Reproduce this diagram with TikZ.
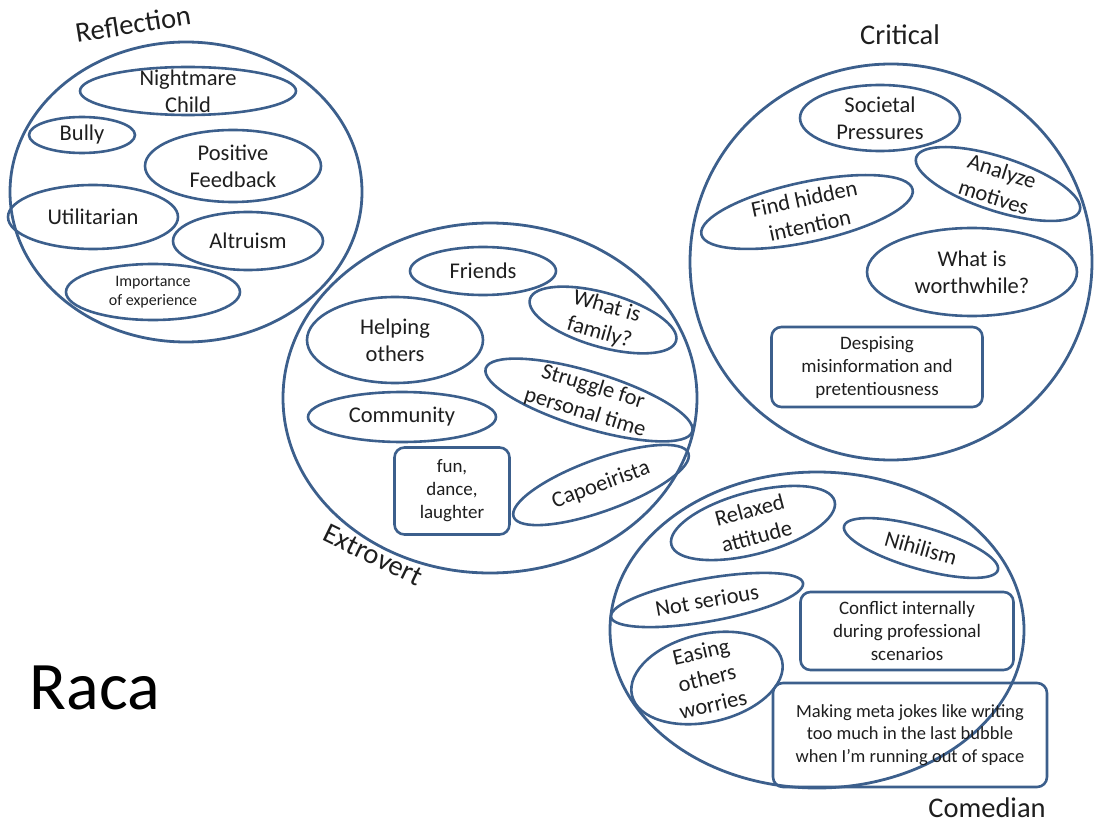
\documentclass[tikz,border=0pt]{standalone}
\usepackage{fontspec}
\setmainfont{Carlito}
\usetikzlibrary{shapes.geometric}
\definecolor{linecol}{HTML}{3C5F8C}
\definecolor{ink}{HTML}{1E1E1E}

\begin{document}
\begin{tikzpicture}[x=1pt,y=-1pt,
  group/.style={draw=linecol, line width=2.8pt, ellipse, inner sep=0pt},
  bub/.style={draw=linecol, line width=2.6pt, ellipse, inner sep=0pt},
  card/.style={draw=linecol, line width=2.6pt, rectangle, rounded corners=10pt, inner sep=0pt},
  txt/.style={text=ink, align=center, inner sep=0pt, font=\fontsize{22.5}{27}\selectfont},
  smalltxt/.style={txt, font=\fontsize{19}{23}\selectfont},
  tinytxt/.style={txt, font=\fontsize{16}{19}\selectfont},
  metatxt/.style={txt, font=\fontsize{18.5}{22.5}\selectfont},
  title/.style={text=ink, inner sep=0pt, font=\fontsize{28.5}{34}\selectfont}
]
\useasboundingbox (0,0) rectangle (1094,834);

% four groups
\node[group, minimum width=352, minimum height=300] (refl) at (186,192) {};
\node[group, minimum width=414, minimum height=350] (extro) at (490,398) {};
\node[group, minimum width=402, minimum height=396] (crit) at (891,262) {};
\node[group, minimum width=414, minimum height=316] (come) at (817,630) {};

% group titles
\node[title, rotate=9] (reflT) at (133,24) {Reflection};
\node[title, rotate=-26] (extroT) at (373,555) {Extrovert};
\node[title] (critT) at (900,35) {Critical};
\node[title] (comeT) at (987,808) {Comedian};
\node[text=black, inner sep=0pt, font=\fontsize{68}{80}\selectfont] (name) at (95,688) {Raca};

% Reflection
\node[bub, minimum width=216, minimum height=48] (nm) at (188,91) {};
\node[txt] (nmT) at (nm.center) {Nightmare\\Child};
\node[bub, minimum width=106, minimum height=36] (bully) at (82,135) {};
\node[txt] (bullyT) at (bully.center) {Bully};
\node[bub, minimum width=176, minimum height=72] (pf) at (233,166) {};
\node[txt] (pfT) at (pf.center) {Positive\\Feedback};
\node[bub, minimum width=170, minimum height=64] (util) at (93,217) {};
\node[txt] (utilT) at (util.center) {Utilitarian};
\node[bub, minimum width=150, minimum height=58] (alt) at (248,241) {};
\node[txt] (altT) at (alt.center) {Altruism};
\node[bub, minimum width=174, minimum height=56] (imp) at (153,292) {};
\node[tinytxt] (impT) at (imp.center) {Importance\\of experience};

% Extrovert
\node[bub, minimum width=146, minimum height=48] (fr) at (483,271) {};
\node[txt] (frT) at (fr.center) {Friends};
\node[bub, minimum width=152, minimum height=54, rotate=-16] (fam) at (603,320) {};
\node[txt, rotate=-16] (famT) at (fam.center) {What is\\family?};
\node[bub, minimum width=176, minimum height=86] (help) at (395,340) {};
\node[txt] (helpT) at (help.center) {Helping\\others};
\node[bub, minimum width=216, minimum height=56, rotate=-17] (strug) at (589,400) {};
\node[txt, rotate=-17] (strugT) at (strug.center) {Struggle for\\personal time};
\node[bub, minimum width=188, minimum height=50] (comm) at (402,417) {};
\node[txt] (commT) at (comm.center) {Community};
\node[card, minimum width=115, minimum height=87] (fun) at (452,491) {};
\node[smalltxt] (funT) at (fun.center) {fun,\\dance,\\laughter};
\node[bub, minimum width=186, minimum height=52, rotate=20] (cap) at (601,485) {};
\node[txt, rotate=20] (capT) at (cap.center) {Capoeirista};

% Critical
\node[bub, minimum width=160, minimum height=66] (soc) at (880,118) {};
\node[txt] (socT) at (soc.center) {Societal\\Pressures};
\node[bub, minimum width=172, minimum height=54, rotate=-18] (ana) at (998,184) {};
\node[txt, rotate=-18] (anaT) at (ana.center) {Analyze\\motives};
\node[bub, minimum width=216, minimum height=60, rotate=12] (find) at (807,212) {};
\node[txt, rotate=12] (findT) at (find.center) {Find hidden\\intention};
\node[bub, minimum width=210, minimum height=88] (worth) at (972,272) {};
\node[txt] (worthT) at (worth.center) {What is\\worthwhile?};
\node[card, minimum width=211, minimum height=80] (desp) at (877,367) {};
\node[smalltxt] (despT) at (desp.center) {Despising\\misinformation and\\pretentiousness};

% Comedian
\node[bub, minimum width=169, minimum height=62, rotate=15] (rel) at (753,523) {};
\node[txt, rotate=15] (relT) at (rel.center) {Relaxed\\attitude};
\node[bub, minimum width=160, minimum height=42, rotate=-16] (nih) at (921,548) {};
\node[txt, rotate=-16] (nihT) at (nih.center) {Nihilism};
\node[bub, minimum width=195, minimum height=43, rotate=10] (ns) at (707,600) {};
\node[txt, rotate=10] (nsT) at (ns.center) {Not serious};
\node[card, minimum width=213, minimum height=78] (conf) at (907,631) {};
\node[smalltxt] (confT) at (conf.center) {Conflict internally\\during professional\\scenarios};
\node[bub, minimum width=154, minimum height=88, rotate=13] (eas) at (707,678) {};
\node[txt, rotate=13] (easT) at (eas.center) {Easing\\others\\worries};
\node[card, minimum width=274, minimum height=104] (meta) at (910,735) {};
\node[metatxt] (metaT) at (meta.center) {Making meta jokes like writing\\too much in the last bubble\\when I’m running out of space};

\end{tikzpicture}
\end{document}
